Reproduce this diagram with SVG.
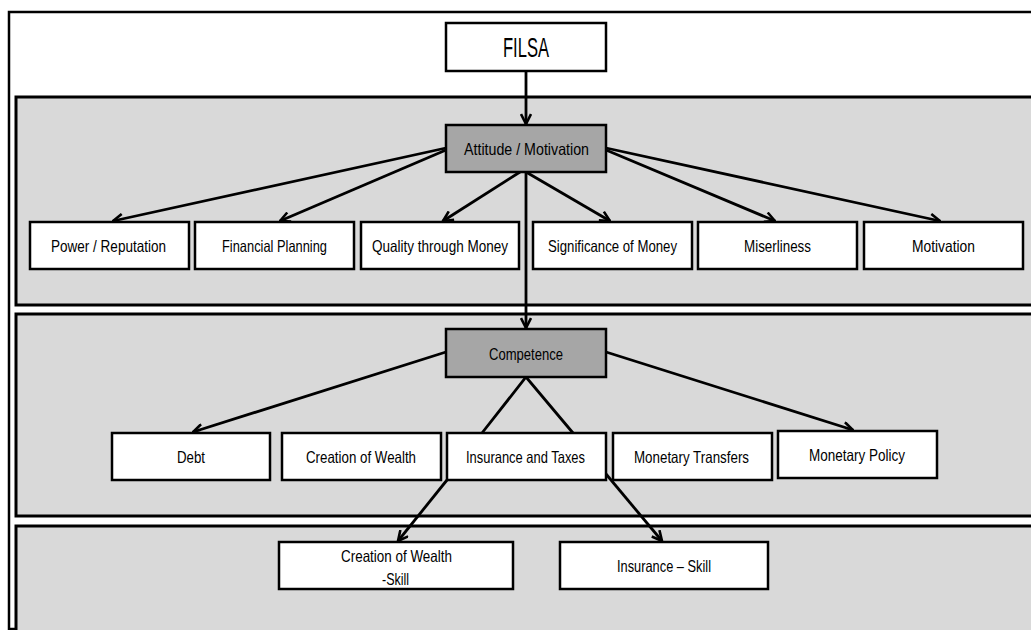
<svg xmlns="http://www.w3.org/2000/svg" width="1031" height="630" viewBox="0 0 1031 630">
<defs>
<marker id="arr" viewBox="0 0 12 12" refX="11" refY="6" markerWidth="12" markerHeight="12" markerUnits="userSpaceOnUse" orient="auto">
<path d="M1,1 L11,6 L1,11" fill="none" stroke="#000" stroke-width="2.6" stroke-linejoin="miter"/>
</marker>
<style>
.frame{fill:#fff;stroke:#000;stroke-width:2.5}
.band{fill:#d9d9d9;stroke:#000;stroke-width:3}
.box{fill:#fff;stroke:#000;stroke-width:2.5}
.hub{fill:#a6a6a6;stroke:#000;stroke-width:2.5}
.t{font-family:"Liberation Sans",Arial,sans-serif;font-size:16.5px;fill:#000;text-anchor:middle}
.c{fill:none;stroke:#000;stroke-width:2.8}
</style>
</defs>
<rect class="frame" x="9" y="12" width="1040" height="617"/>
<rect class="band" x="16" y="97" width="1030" height="208"/>
<rect class="band" x="16" y="314" width="1030" height="202"/>
<rect class="band" x="16" y="526" width="1030" height="130"/>

<g id="connectors">
<line class="c" x1="526" y1="71" x2="526" y2="124" marker-end="url(#arr)"/>
<line class="c" x1="446" y1="148" x2="113" y2="221" marker-end="url(#arr)"/>
<line class="c" x1="446" y1="150" x2="280" y2="221" marker-end="url(#arr)"/>
<line class="c" x1="520" y1="172" x2="443" y2="221" marker-end="url(#arr)"/>
<line class="c" x1="526" y1="172" x2="610" y2="221" marker-end="url(#arr)"/>
<line class="c" x1="606" y1="150" x2="775" y2="221" marker-end="url(#arr)"/>
<line class="c" x1="606" y1="148" x2="940" y2="221" marker-end="url(#arr)"/>
<line class="c" x1="526" y1="172" x2="526" y2="328" marker-end="url(#arr)"/>
<line class="c" x1="446" y1="352" x2="193" y2="432" marker-end="url(#arr)"/>
<line class="c" x1="606" y1="352" x2="853" y2="430" marker-end="url(#arr)"/>
<polyline class="c" points="482,433 526,377 573,433"/>
<line class="c" x1="447" y1="480" x2="398" y2="541" marker-end="url(#arr)"/>
<line class="c" x1="606" y1="474" x2="662" y2="541" marker-end="url(#arr)"/>
</g>

<g id="filsa"><rect class="box" x="446" y="23" width="160" height="48"/><text class="t" x="526" y="57" style="font-size:27px" textLength="46" lengthAdjust="spacingAndGlyphs">FILSA</text></g>
<g id="attitude"><rect class="hub" x="446" y="125" width="160" height="47"/><text class="t" x="526.5" y="155" textLength="125" lengthAdjust="spacingAndGlyphs">Attitude / Motivation</text></g>

<g id="power"><rect class="box" x="30" y="222" width="159" height="47"/><text class="t" x="108.5" y="252" textLength="115" lengthAdjust="spacingAndGlyphs">Power / Reputation</text></g>
<g id="financial"><rect class="box" x="195" y="222" width="159" height="47"/><text class="t" x="274.5" y="252" textLength="105" lengthAdjust="spacingAndGlyphs">Financial Planning</text></g>
<g id="quality"><rect class="box" x="361" y="222" width="158" height="47"/><text class="t" x="440" y="252" textLength="136" lengthAdjust="spacingAndGlyphs">Quality through  Money</text></g>
<g id="significance"><rect class="box" x="533" y="222" width="159" height="47"/><text class="t" x="612.5" y="252" textLength="129" lengthAdjust="spacingAndGlyphs">Significance of Money</text></g>
<g id="miserliness"><rect class="box" x="698" y="222" width="159" height="47"/><text class="t" x="777.5" y="252" textLength="67" lengthAdjust="spacingAndGlyphs">Miserliness</text></g>
<g id="motivation"><rect class="box" x="864" y="222" width="159" height="47"/><text class="t" x="943.5" y="252" textLength="63" lengthAdjust="spacingAndGlyphs">Motivation</text></g>

<g id="competence"><rect class="hub" x="446" y="329" width="160" height="48"/><text class="t" x="526" y="360" textLength="74" lengthAdjust="spacingAndGlyphs">Competence</text></g>

<g id="debt"><rect class="box" x="112" y="433" width="158" height="47"/><text class="t" x="191" y="463" textLength="28" lengthAdjust="spacingAndGlyphs">Debt</text></g>
<g id="creation"><rect class="box" x="282" y="433" width="159" height="47"/><text class="t" x="361" y="463" textLength="110" lengthAdjust="spacingAndGlyphs">Creation of Wealth</text></g>
<g id="insurance"><rect class="box" x="447" y="433" width="159" height="47"/><text class="t" x="525.5" y="463" textLength="119" lengthAdjust="spacingAndGlyphs">Insurance and Taxes</text></g>
<g id="transfers"><rect class="box" x="613" y="433" width="159" height="47"/><text class="t" x="691.5" y="463" textLength="115" lengthAdjust="spacingAndGlyphs">Monetary  Transfers</text></g>
<g id="policy"><rect class="box" x="778" y="431" width="159" height="47"/><text class="t" x="857" y="461" textLength="96" lengthAdjust="spacingAndGlyphs">Monetary  Policy</text></g>

<g id="creation-skill"><rect class="box" x="279" y="542" width="234" height="47"/><text class="t" x="396.5" y="562" textLength="111" lengthAdjust="spacingAndGlyphs">Creation of Wealth</text><text class="t" x="395.5" y="585" textLength="27" lengthAdjust="spacingAndGlyphs">-Skill</text></g>
<g id="insurance-skill"><rect class="box" x="560" y="542" width="208" height="47"/><text class="t" x="664" y="572" textLength="94" lengthAdjust="spacingAndGlyphs">Insurance – Skill</text></g>
</svg>
